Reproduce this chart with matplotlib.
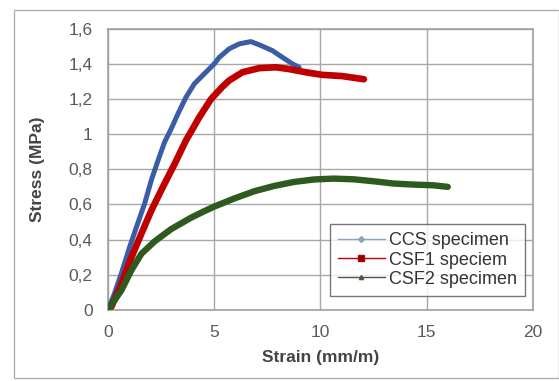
import matplotlib.pyplot as plt
from matplotlib.patches import Rectangle
from matplotlib.ticker import FuncFormatter

# Data
ccs_strain = [0, 0.3, 0.64, 1.03, 1.34, 1.73, 2.05, 2.36, 2.67, 2.98, 3.30, 3.68, 4.07, 4.54,
              5.01, 5.25, 5.71, 6.18, 6.73, 7.2, 7.74, 8.21, 8.68, 9.0]
ccs_stress = [0, 0.09, 0.21, 0.36, 0.47, 0.605, 0.74, 0.85, 0.955, 1.03, 1.116, 1.21, 1.286, 1.343,
              1.40, 1.437, 1.485, 1.513, 1.526, 1.504, 1.475, 1.437, 1.40, 1.38]

csf1_strain = [0, 0.17, 0.64, 1.11, 1.58, 2.05, 2.59, 3.14, 3.68, 4.31, 4.86, 5.4, 5.71, 6.34,
               7.12, 7.9, 8.52, 9.3, 10.08, 11.02, 11.88, 12.05]
csf1_stress = [0, 0.02, 0.15, 0.30, 0.435, 0.567, 0.70, 0.83, 0.965, 1.097, 1.20, 1.27, 1.305, 1.352,
               1.375, 1.38, 1.37, 1.352, 1.337, 1.33, 1.315, 1.312]

csf2_strain = [0, 0.64, 1.11, 1.58, 2.2, 2.98, 3.92, 4.54, 5.01, 5.95, 6.89, 7.82, 8.76, 9.7,
               10.63, 11.57, 12.5, 13.44, 14.38, 15.32, 16.0]
csf2_stress = [0, 0.113, 0.227, 0.32, 0.39, 0.46, 0.525, 0.562, 0.588, 0.634, 0.675, 0.705, 0.728, 0.742,
               0.747, 0.743, 0.732, 0.719, 0.713, 0.709, 0.70]

series_names = ["CCS specimen", "CSF1 speciem", "CSF2 specimen"]
x_ticks = [0, 5, 10, 15, 20]
y_ticks = [0, 0.2, 0.4, 0.6, 0.8, 1.0, 1.2, 1.4, 1.6]

plt.rcParams["font.family"] = ["Liberation Sans", "DejaVu Sans"]

fig = plt.figure(figsize=(5.59, 3.81), dpi=100)
ax = fig.add_axes([0.193, 0.1864, 0.760, 0.7386])

# outer chart frame
fig.patches.append(Rectangle((14 / 559, 1 - 378 / 381), 545 / 559, 368 / 381,
                             transform=fig.transFigure, fill=False,
                             edgecolor="#b0b0b0", linewidth=1.0))

# thick curves
ax.plot(ccs_strain, ccs_stress, color="#3a5da6", linewidth=3.6,
        solid_capstyle="round", solid_joinstyle="round", zorder=3)
ax.plot(csf1_strain, csf1_stress, color="#c00000", linewidth=4.8,
        solid_capstyle="round", solid_joinstyle="round", zorder=4)
ax.plot(csf2_strain, csf2_stress, color="#2e5a1f", linewidth=4.6,
        solid_capstyle="round", solid_joinstyle="round", zorder=5)

# legend proxies (thin line + small marker)
ax.plot([], [], color="#8aa2bb", linewidth=1, marker="D", markersize=3, label=series_names[0])
ax.plot([], [], color="#c00000", linewidth=1, marker="s", markersize=4,
        markerfacecolor="#7a0000", label=series_names[1])
ax.plot([], [], color="#4a5a40", linewidth=1, marker="^", markersize=3, label=series_names[2])

ax.set_xlim(0, 20)
ax.set_ylim(0, 1.6)
ax.set_xticks(x_ticks)
ax.set_yticks(y_ticks)
ax.yaxis.set_major_formatter(FuncFormatter(lambda v, p: f"{v:g}".replace(".", ",")))
ax.tick_params(length=0, labelsize=12.5, labelcolor="#5a5a5a")
ax.tick_params(axis="y", pad=11)
ax.tick_params(axis="x", pad=11)

ax.grid(True, color="#a8a8a8", linewidth=1)
ax.set_axisbelow(True)
for side in ax.spines.values():
    side.set_color("#a0a0a0")
    side.set_linewidth(1.2)

ax.set_xlabel("Strain (mm/m)", fontsize=12.5, fontweight="bold", color="#444444", labelpad=7)
ax.set_ylabel("Stress (MPa)", fontsize=12.5, fontweight="bold", color="#444444", labelpad=17)

leg = ax.legend(loc="lower right", bbox_to_anchor=(0.981, 0.05), fontsize=13,
                frameon=True, fancybox=False, handlelength=2.6, handletextpad=0.2,
                borderpad=0.45, labelspacing=0.12, borderaxespad=0)
leg.get_frame().set_edgecolor("#555555")
leg.get_frame().set_linewidth(1)
for t in leg.get_texts():
    t.set_color("#333333")

fig.savefig("out.png", dpi=100)
